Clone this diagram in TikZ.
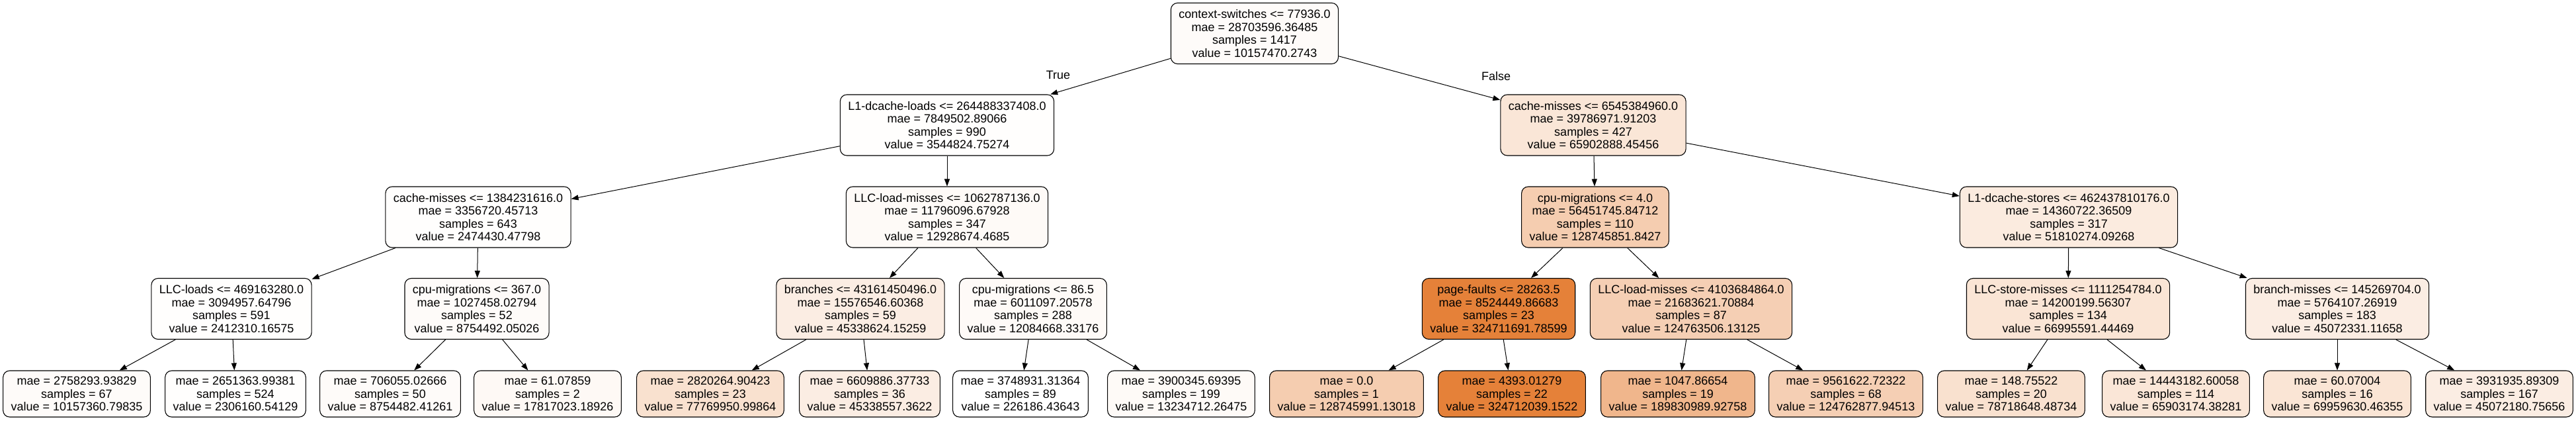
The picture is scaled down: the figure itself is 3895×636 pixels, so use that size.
\documentclass[tikz,border=0pt]{standalone}
\usepackage{fontspec}
\setmainfont{Liberation Sans}
\usepackage{tikz}
\usetikzlibrary{arrows.meta}

\definecolor{treeorange}{RGB}{229,129,57}

\begin{document}
\begin{tikzpicture}[x = 1pt, y = -1pt, line width = 1.1pt,
                    split/.style = {draw, rounded corners = 10pt, align = center, inner xsep = 12pt,
                                    minimum height = 92pt, font = \fontsize{18}{19.6}\selectfont},
                    leaf/.style = {split, minimum height = 70pt},
                    link/.style = {-{Triangle[length = 11pt, width = 8pt]}, line width = 1pt}]

\useasboundingbox (0,0) rectangle (3895,636);

% root and first split
\node [split, fill = treeorange!3!white] (T11) at (1897,50.5)
  {context-switches <= 77936.0\\mae = 28703596.36485\\samples = 1417\\value = 10157470.2743};

\node [split, fill = treeorange!1!white] (T21) at (1432,189)
  {L1-dcache-loads <= 264488337408.0\\mae = 7849502.89066\\samples = 990\\value = 3544824.75274};
\node [split, fill = treeorange!20!white] (T22) at (2409,189)
  {cache-misses <= 6545384960.0\\mae = 39786971.91203\\samples = 427\\value = 65902888.45456};

\node (TT) at (1600,113) {\fontsize{18}{19.6}\selectfont True};
\node (TF) at (2262,115) {\fontsize{18}{19.6}\selectfont False};

% second level
\node [split, fill = treeorange!1!white] (T31) at (723,328)
  {cache-misses <= 1384231616.0\\mae = 3356720.45713\\samples = 643\\value = 2474430.47798};
\node [split, fill = treeorange!4!white] (T32) at (1432,328)
  {LLC-load-misses <= 1062787136.0\\mae = 11796096.67928\\samples = 347\\value = 12928674.4685};
\node [split, fill = treeorange!40!white] (T33) at (2412,328)
  {cpu-migrations <= 4.0\\mae = 56451745.84712\\samples = 110\\value = 128745851.8427};
\node [split, fill = treeorange!16!white] (T34) at (3128,328)
  {L1-dcache-stores <= 462437810176.0\\mae = 14360722.36509\\samples = 317\\value = 51810274.09268};

% third level
\node [split, fill = treeorange!1!white] (T41) at (350,466.5)
  {LLC-loads <= 469163280.0\\mae = 3094957.64796\\samples = 591\\value = 2412310.16575};
\node [split, fill = treeorange!3!white] (T42) at (721,466.5)
  {cpu-migrations <= 367.0\\mae = 1027458.02794\\samples = 52\\value = 8754492.05026};
\node [split, fill = treeorange!14!white] (T43) at (1301,466.5)
  {branches <= 43161450496.0\\mae = 15576546.60368\\samples = 59\\value = 45338624.15259};
\node [split, fill = treeorange!4!white] (T44) at (1562,466.5)
  {cpu-migrations <= 86.5\\mae = 6011097.20578\\samples = 288\\value = 12084668.33176};
\node [split, fill = treeorange] (T45) at (2266,466.5)
  {page-faults <= 28263.5\\mae = 8524449.86683\\samples = 23\\value = 324711691.78599};
\node [split, fill = treeorange!38!white] (T46) at (2557,466.5)
  {LLC-load-misses <= 4103684864.0\\mae = 21683621.70884\\samples = 87\\value = 124763506.13125};
\node [split, fill = treeorange!21!white] (T47) at (3127,466.5)
  {LLC-store-misses <= 1111254784.0\\mae = 14200199.56307\\samples = 134\\value = 66995591.44469};
\node [split, fill = treeorange!14!white] (T48) at (3534,466.5)
  {branch-misses <= 145269704.0\\mae = 5764107.26919\\samples = 183\\value = 45072331.11658};

% leaves
\node [leaf, fill = treeorange!3!white] (T51) at (116,595)
  {mae = 2758293.93829\\samples = 67\\value = 10157360.79835};
\node [leaf, fill = treeorange!1!white] (T52) at (356,595)
  {mae = 2651363.99381\\samples = 524\\value = 2306160.54129};
\node [leaf, fill = treeorange!3!white] (T53) at (590,595)
  {mae = 706055.02666\\samples = 50\\value = 8754482.41261};
\node [leaf, fill = treeorange!5!white] (T54) at (828,595)
  {mae = 61.07859\\samples = 2\\value = 17817023.18926};
\node [leaf, fill = treeorange!24!white] (T55) at (1074,595)
  {mae = 2820264.90423\\samples = 23\\value = 77769950.99864};
\node [leaf, fill = treeorange!14!white] (T56) at (1315,595)
  {mae = 6609886.37733\\samples = 36\\value = 45338557.3622};
\node [leaf, fill = white] (T57) at (1543,595)
  {mae = 3748931.31364\\samples = 89\\value = 226186.43643};
\node [leaf, fill = treeorange!4!white] (T58) at (1786,595)
  {mae = 3900345.69395\\samples = 199\\value = 13234712.26475};
\node [leaf, fill = treeorange!40!white] (T59) at (2036,595)
  {mae = 0.0\\samples = 1\\value = 128745991.13018};
\node [leaf, fill = treeorange] (T510) at (2286,595)
  {mae = 4393.01279\\samples = 22\\value = 324712039.1522};
\node [leaf, fill = treeorange!58!white] (T511) at (2537,595)
  {mae = 1047.86654\\samples = 19\\value = 189830989.92758};
\node [leaf, fill = treeorange!38!white] (T512) at (2791,595)
  {mae = 9561622.72322\\samples = 68\\value = 124762877.94513};
\node [leaf, fill = treeorange!24!white] (T513) at (3041,595)
  {mae = 148.75522\\samples = 20\\value = 78718648.48734};
\node [leaf, fill = treeorange!20!white] (T514) at (3290,595)
  {mae = 14443182.60058\\samples = 114\\value = 65903174.38281};
\node [leaf, fill = treeorange!21!white] (T515) at (3534,595)
  {mae = 60.07004\\samples = 16\\value = 69959630.46355};
\node [leaf, fill = treeorange!14!white] (T516) at (3779,595)
  {mae = 3931935.89309\\samples = 167\\value = 45072180.75656};

\draw[link] (T11)--(T21);
\draw[link] (T11)--(T22);
\draw[link] (T21)--(T31);
\draw[link] (T21)--(T32);
\draw[link] (T22)--(T33);
\draw[link] (T22)--(T34);
\draw[link] (T31)--(T41);
\draw[link] (T31)--(T42);
\draw[link] (T32)--(T43);
\draw[link] (T32)--(T44);
\draw[link] (T33)--(T45);
\draw[link] (T33)--(T46);
\draw[link] (T34)--(T47);
\draw[link] (T34)--(T48);
\draw[link] (T41)--(T51);
\draw[link] (T41)--(T52);
\draw[link] (T42)--(T53);
\draw[link] (T42)--(T54);
\draw[link] (T43)--(T55);
\draw[link] (T43)--(T56);
\draw[link] (T44)--(T57);
\draw[link] (T44)--(T58);
\draw[link] (T45)--(T59);
\draw[link] (T45)--(T510);
\draw[link] (T46)--(T511);
\draw[link] (T46)--(T512);
\draw[link] (T47)--(T513);
\draw[link] (T47)--(T514);
\draw[link] (T48)--(T515);
\draw[link] (T48)--(T516);
\end{tikzpicture}
\end{document}
